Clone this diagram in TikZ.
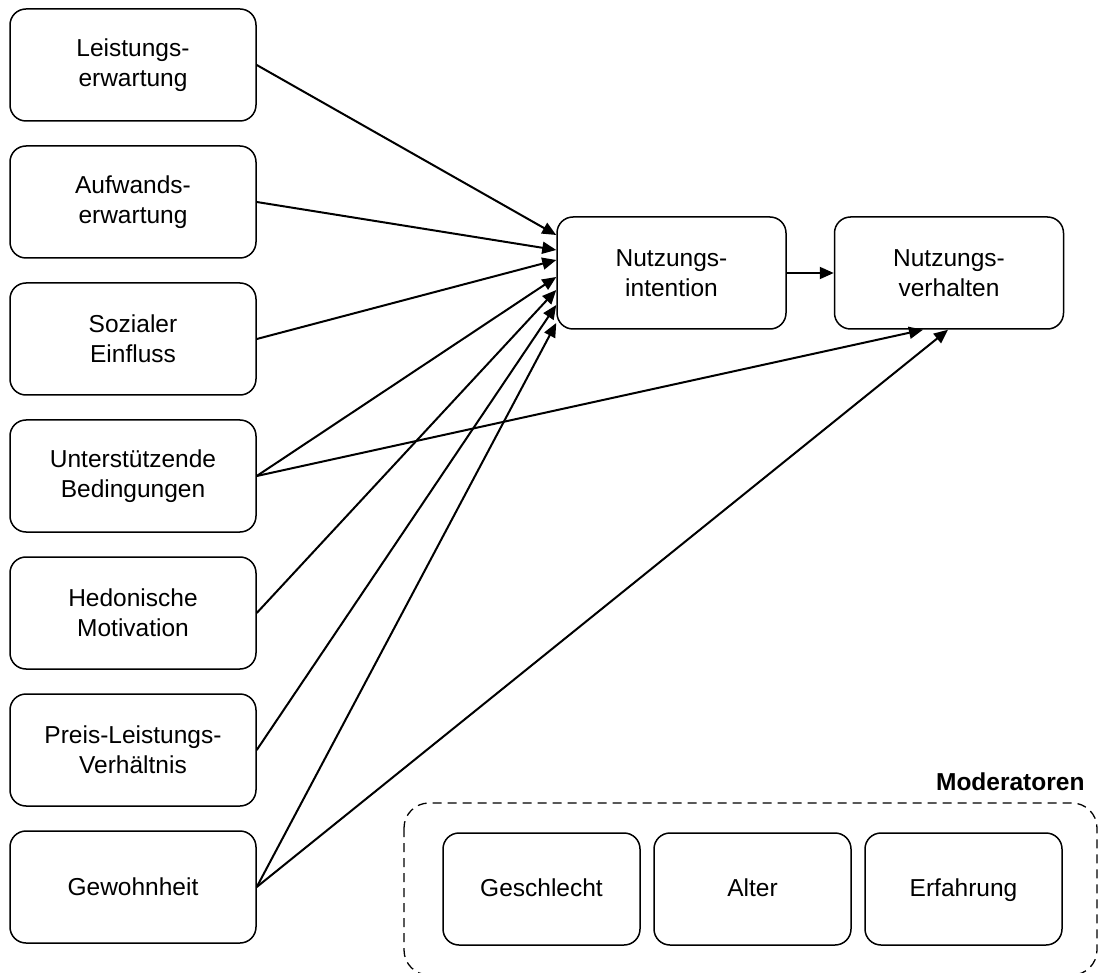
\documentclass[tikz,border=0pt]{standalone}
\usepackage{fontspec}
\setmainfont{Liberation Sans}
\usetikzlibrary{arrows.meta,calc}
\begin{document}
\begin{tikzpicture}[x=1pt,y=-1pt,
  box/.style={draw, line width=1.5pt, rounded corners=16pt, align=center,
    minimum width=246pt, minimum height=112pt, inner sep=0pt,
    font=\fontsize{24.5}{30}\selectfont},
  midbox/.style={box, minimum width=229pt},
  modbox/.style={box, minimum width=197pt, text height=17.6pt, text depth=3pt},
  conn/.style={line width=2pt, -{Triangle[length=14pt,width=12pt]}}
]
\useasboundingbox (0,0) rectangle (1098,973);
% left column
\node[box] (l1) at (133,65)  {Leistungs-\\erwartung};
\node[box] (l2) at (133,202) {Aufwands-\\erwartung};
\node[box] (l3) at (133,339) {Sozialer\\Einfluss};
\node[box] (l4) at (133,476) {Unterstützende\\Bedingungen};
\node[box] (l5) at (133,613) {Hedonische\\Motivation};
\node[box] (l6) at (133,750) {Preis-Leistungs-\\Verhältnis};
\node[box] (l7) at (133,887) {Gewohnheit};
% targets
\node[midbox] (ni) at (671.5,273) {Nutzungs-\\intention};
\node[midbox] (nv) at (949,273) {Nutzungs-\\verhalten};
% moderators
\draw[line width=1.3pt, dash pattern=on 9pt off 6pt, rounded corners=25pt] (404,803) rectangle (1097,975);
\node[font=\fontsize{24.5}{30}\selectfont\bfseries, anchor=base east] (mod) at (1088,790) {Moderatoren};
\node[modbox] (m1) at (541.5,889) {Geschlecht};
\node[modbox] (m2) at (752.5,889) {Alter};
\node[modbox] (m3) at (963.5,889) {Erfahrung};
% entry points
\coordinate (t1) at ([yshift=38pt]ni.west);
\coordinate (t2) at ([yshift=23pt]ni.west);
\coordinate (t3) at ([yshift=13pt]ni.west);
\coordinate (t4) at ([yshift=-4pt]ni.west);
\coordinate (t5) at ([yshift=-17pt]ni.west);
\coordinate (t6) at ([yshift=-32pt]ni.west);
\coordinate (t7) at ([yshift=-50pt]ni.west);
\coordinate (b1) at ([xshift=-26pt]nv.south);
\coordinate (b2) at ([xshift=-1pt]nv.south);
% connectors
\draw[conn] (l1.east) -- (t1);
\draw[conn] (l2.east) -- (t2);
\draw[conn] (l3.east) -- (t3);
\draw[conn] (l4.east) -- (t4);
\draw[conn] (l5.east) -- (t5);
\draw[conn] (l6.east) -- (t6);
\draw[conn] (l7.east) -- (t7);
\draw[conn] (l4.east) -- (b1);
\draw[conn] (l7.east) -- (b2);
\draw[conn] (ni.east) -- (nv.west);
\end{tikzpicture}
\end{document}
